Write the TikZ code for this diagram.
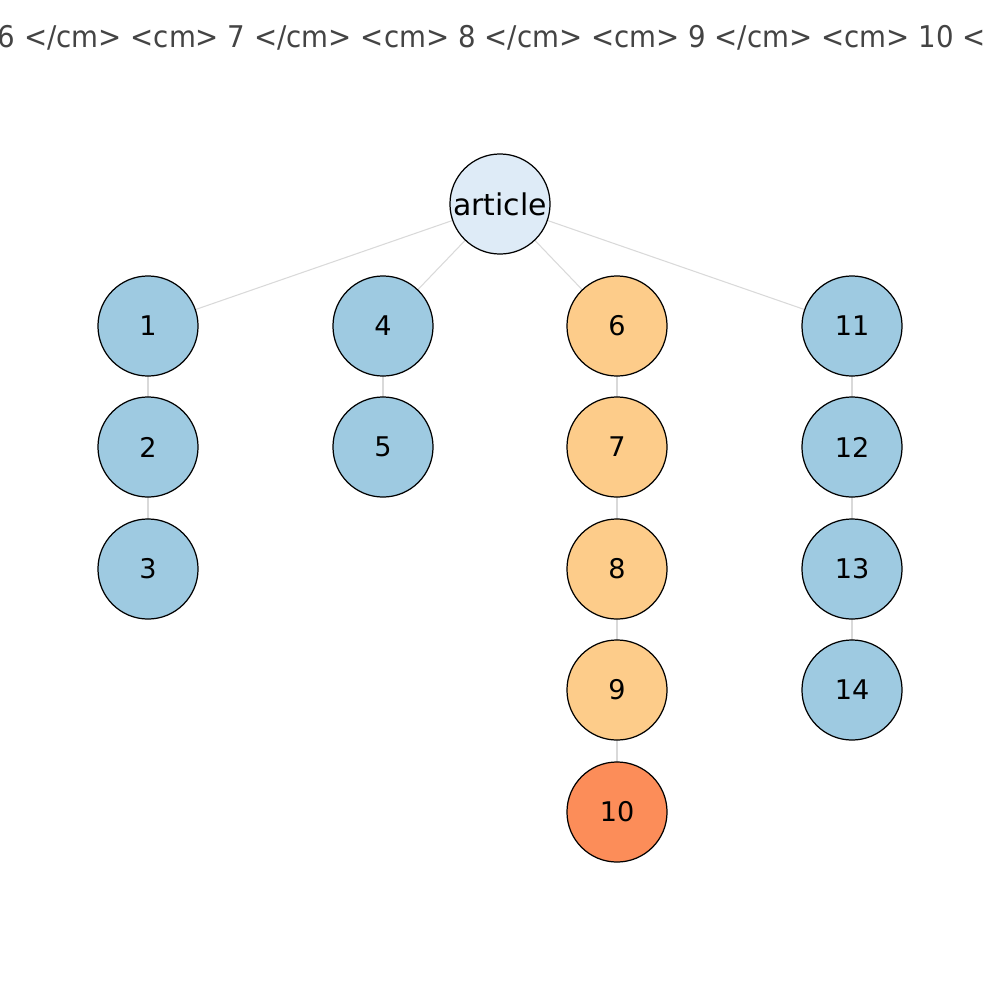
\documentclass[tikz,border=0pt]{standalone}
\usepackage{fontspec}
\setmainfont{DejaVu Sans}
\definecolor{blueN}{HTML}{9ECAE1}
\definecolor{orangeN}{HTML}{FDCC8A}
\definecolor{redN}{HTML}{FC8D59}
\definecolor{rootN}{HTML}{DEEBF7}
\definecolor{edgeC}{HTML}{D9D9D9}
\definecolor{titleC}{HTML}{444444}
\begin{document}
\begin{tikzpicture}[x=0.01cm,y=-0.01cm,
  nd/.style={circle,draw=black,line width=0.35pt,minimum size=1cm,inner sep=0pt,font=\fontsize{7.7pt}{9pt}\selectfont},
  bl/.style={nd,fill=blueN},
  orn/.style={nd,fill=orangeN},
  rd/.style={nd,fill=redN},
  rt/.style={nd,fill=rootN,font=\fontsize{8.5pt}{9pt}\selectfont},
  ed/.style={draw=edgeC,line width=0.3pt}]
\useasboundingbox (0,0) rectangle (1000,1000);
\clip (0,0) rectangle (1000,1000);
\node[anchor=west,text=titleC,inner sep=0pt,font=\fontsize{8.5pt}{10pt}\selectfont] (title) at (-3,38) {\scalebox{0.925}[1]{6 </cm> <cm> 7 </cm> <cm> 8 </cm> <cm> 9 </cm> <cm> 10 <}};
\coordinate (pa) at (500,204);
\coordinate (p1) at (148,326);
\coordinate (p2) at (148,447);
\coordinate (p3) at (148,569);
\coordinate (p4) at (383,326);
\coordinate (p5) at (383,447);
\coordinate (p6) at (617,326);
\coordinate (p7) at (617,447);
\coordinate (p8) at (617,569);
\coordinate (p9) at (617,690);
\coordinate (p10) at (617,812);
\coordinate (p11) at (852,326);
\coordinate (p12) at (852,447);
\coordinate (p13) at (852,569);
\coordinate (p14) at (852,690);
\foreach \a/\b in {pa/p1,pa/p4,pa/p6,pa/p11,p1/p2,p2/p3,p4/p5,p6/p7,p7/p8,p8/p9,p9/p10,p11/p12,p12/p13,p13/p14}
  \draw[ed] (\a) -- (\b);
\node[rt] (article) at (pa) {article};
\node[bl] (n1) at (p1) {1};
\node[bl] (n2) at (p2) {2};
\node[bl] (n3) at (p3) {3};
\node[bl] (n4) at (p4) {4};
\node[bl] (n5) at (p5) {5};
\node[orn] (n6) at (p6) {6};
\node[orn] (n7) at (p7) {7};
\node[orn] (n8) at (p8) {8};
\node[orn] (n9) at (p9) {9};
\node[rd] (n10) at (p10) {10};
\node[bl] (n11) at (p11) {11};
\node[bl] (n12) at (p12) {12};
\node[bl] (n13) at (p13) {13};
\node[bl] (n14) at (p14) {14};
\end{tikzpicture}
\end{document}
